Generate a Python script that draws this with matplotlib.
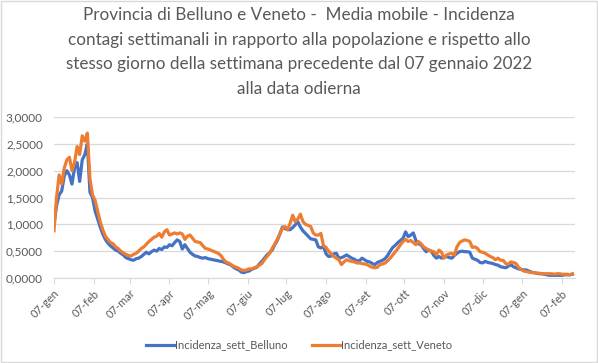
import matplotlib.pyplot as plt
import pandas as pd
from matplotlib.patches import Rectangle
from matplotlib.ticker import FuncFormatter

plt.rcParams['font.family'] = ['Lato', 'DejaVu Sans']

# one reading every 2 days from 07 Jan 2022
dates = pd.date_range('2022-01-07', periods=203, freq='2D')

belluno = [
    1.00, 1.35, 1.55, 1.62, 1.90, 2.00, 1.92, 1.75, 2.05, 2.15,
    1.80, 2.20, 2.30, 2.50, 1.60, 1.50, 1.25, 1.10, 0.95, 0.82,
    0.72, 0.65, 0.60, 0.56, 0.52, 0.50, 0.46, 0.43, 0.38, 0.36,
    0.34, 0.33, 0.36, 0.37, 0.40, 0.44, 0.48, 0.45, 0.49, 0.52,
    0.50, 0.55, 0.53, 0.58, 0.57, 0.62, 0.60, 0.66, 0.71, 0.68,
    0.54, 0.62, 0.55, 0.48, 0.44, 0.41, 0.40, 0.38, 0.37, 0.38,
    0.36, 0.35, 0.34, 0.33, 0.32, 0.31, 0.30, 0.28, 0.26, 0.24,
    0.20, 0.17, 0.15, 0.11, 0.10, 0.12, 0.13, 0.16, 0.18, 0.20,
    0.26, 0.31, 0.37, 0.43, 0.47, 0.52, 0.62, 0.70, 0.82, 0.95,
    0.92, 0.90, 0.90, 0.94, 0.99, 1.05, 0.95, 0.88, 0.83, 0.78,
    0.73, 0.72, 0.71, 0.58, 0.56, 0.59, 0.45, 0.40, 0.41, 0.45,
    0.46, 0.37, 0.38, 0.40, 0.43, 0.40, 0.37, 0.35, 0.32, 0.32,
    0.37, 0.34, 0.31, 0.30, 0.27, 0.25, 0.29, 0.31, 0.33, 0.36,
    0.42, 0.50, 0.57, 0.61, 0.66, 0.70, 0.74, 0.86, 0.77, 0.80,
    0.84, 0.70, 0.64, 0.62, 0.55, 0.49, 0.52, 0.50, 0.42, 0.37,
    0.40, 0.37, 0.39, 0.40, 0.38, 0.37, 0.42, 0.46, 0.49, 0.50,
    0.49, 0.49, 0.48, 0.37, 0.35, 0.33, 0.29, 0.28, 0.31, 0.29,
    0.28, 0.27, 0.25, 0.24, 0.21, 0.20, 0.19, 0.22, 0.25, 0.21,
    0.19, 0.17, 0.16, 0.15, 0.15, 0.13, 0.11, 0.10, 0.09, 0.08,
    0.08, 0.07, 0.06, 0.05, 0.05, 0.05, 0.05, 0.05, 0.05, 0.06,
    0.06, 0.06, 0.07,
]

veneto = [
    0.88, 1.50, 1.92, 1.75, 2.05, 2.20, 2.25, 2.00, 2.15, 2.45,
    2.30, 2.65, 2.55, 2.70, 1.85, 1.55, 1.45, 1.25, 1.05, 0.90,
    0.78, 0.72, 0.66, 0.64, 0.58, 0.55, 0.50, 0.47, 0.44, 0.42,
    0.41, 0.44, 0.46, 0.50, 0.55, 0.58, 0.63, 0.68, 0.72, 0.76,
    0.78, 0.83, 0.76, 0.86, 0.90, 0.80, 0.82, 0.84, 0.82, 0.84,
    0.82, 0.72, 0.78, 0.80, 0.74, 0.68, 0.67, 0.66, 0.60, 0.55,
    0.54, 0.52, 0.50, 0.48, 0.46, 0.42, 0.35, 0.30, 0.28, 0.25,
    0.22, 0.20, 0.18, 0.15, 0.14, 0.15, 0.17, 0.17, 0.19, 0.21,
    0.24, 0.27, 0.34, 0.40, 0.46, 0.55, 0.63, 0.72, 0.82, 0.93,
    0.96, 0.90, 1.02, 1.17, 1.05, 1.10, 1.19, 1.05, 1.00, 0.98,
    0.96, 0.84, 0.80, 0.80, 0.83, 0.60, 0.57, 0.50, 0.45, 0.40,
    0.37, 0.34, 0.25, 0.30, 0.34, 0.32, 0.31, 0.30, 0.28, 0.28,
    0.27, 0.26, 0.25, 0.22, 0.20, 0.19, 0.20, 0.25, 0.26, 0.28,
    0.32, 0.37, 0.43, 0.49, 0.55, 0.62, 0.68, 0.72, 0.68, 0.70,
    0.66, 0.62, 0.68, 0.64, 0.58, 0.55, 0.52, 0.50, 0.49, 0.43,
    0.52, 0.48, 0.37, 0.43, 0.45, 0.46, 0.43, 0.58, 0.66, 0.69,
    0.71, 0.70, 0.68, 0.57, 0.58, 0.55, 0.49, 0.48, 0.46, 0.43,
    0.40, 0.38, 0.34, 0.37, 0.33, 0.33, 0.27, 0.26, 0.30, 0.29,
    0.27, 0.20, 0.16, 0.13, 0.12, 0.11, 0.10, 0.10, 0.09, 0.09,
    0.08, 0.08, 0.08, 0.08, 0.08, 0.07, 0.08, 0.08, 0.07, 0.07,
    0.07, 0.06, 0.08,
]

tick_dates = pd.to_datetime(['2022-01-07', '2022-02-07', '2022-03-07', '2022-04-07',
                             '2022-05-07', '2022-06-07', '2022-07-07', '2022-08-07',
                             '2022-09-07', '2022-10-07', '2022-11-07', '2022-12-07',
                             '2023-01-07', '2023-02-07'])
tick_labels = ['07-gen', '07-feb', '07-mar', '07-apr', '07-mag', '07-giu', '07-lug',
               '07-ago', '07-set', '07-ott', '07-nov', '07-dic', '07-gen', '07-feb']

title = ('Provincia di Belluno e Veneto -  Media mobile - Incidenza\n'
         'contagi settimanali in rapporto alla popolazione e rispetto allo\n'
         'stesso giorno della settimana precedente dal 07 gennaio 2022\n'
         'alla data odierna')

grey = '#595959'

fig = plt.figure(figsize=(5.98, 3.63), dpi=100)
fig.patches.append(Rectangle((0.001, 0.002), 0.997, 0.995, transform=fig.transFigure,
                             fill=False, edgecolor='#d9d9d9', linewidth=1))
ax = fig.add_axes([54 / 598, 1 - 278 / 363, 521 / 598, 161 / 363])

ax.plot(dates, belluno, color='#4472C4', linewidth=2.3, label='Incidenza_sett_Belluno')
ax.plot(dates, veneto, color='#ED7D31', linewidth=2.3, label='Incidenza_sett_Veneto')

ax.set_ylim(0, 3)
ax.set_yticks([0, 0.5, 1, 1.5, 2, 2.5, 3])
ax.yaxis.set_major_formatter(FuncFormatter(lambda v, p: f'{v:.4f}'.replace('.', ',')))
ax.set_xlim(dates[0], dates[-1] + pd.Timedelta(days=2))
ax.set_xticks(tick_dates)
ax.set_xticklabels(tick_labels, rotation=45, ha='right', rotation_mode='anchor')

ax.grid(axis='y', color='#d9d9d9', linewidth=0.9)
ax.set_axisbelow(True)
for s in ['top', 'right', 'left']:
    ax.spines[s].set_visible(False)
ax.spines['bottom'].set_color('#d9d9d9')
ax.tick_params(axis='y', length=0, labelsize=8.5, labelcolor=grey, pad=8)
ax.tick_params(axis='x', length=4, color='#d9d9d9', labelsize=8, labelcolor=grey, pad=3)

fig.text(0.5, 1 - 7 / 363, title, ha='center', va='top', fontsize=12.3,
         color=grey, linespacing=1.67)

fig.legend(loc='center', bbox_to_anchor=(0.5, 1 - 345 / 363), ncol=2, frameon=False,
           fontsize=8, handlelength=2.5, handletextpad=0.1, columnspacing=2.2,
           labelcolor=grey)

fig.savefig('out.png', dpi=100)
